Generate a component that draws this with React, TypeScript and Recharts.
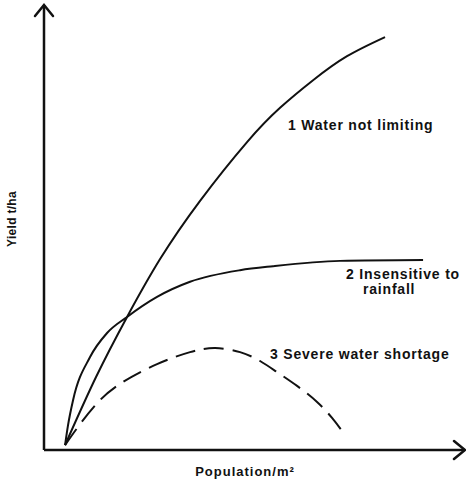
import React from 'react';
import { LineChart, Line, XAxis, YAxis, Customized } from 'recharts';

// Curve 1: water not limiting
const curve1X = [0, 7.36, 14.73, 22.57, 32.07, 43.23, 51.07, 58.91, 66.98, 76.01];
const curve1Y = [0.11, 1.64, 2.99, 4.29, 5.6, 6.92, 7.69, 8.31, 8.85, 9.28];
// Curve 2: insensitive to rainfall
const curve2X = [0, 0.71, 1.9, 5.94, 9.98, 14.73, 21.85, 29.69, 41.57, 49.41, 65.32, 85.04];
const curve2Y = [0.11, 0.56, 1.12, 2.09, 2.63, 2.99, 3.44, 3.78, 4.04, 4.13, 4.25, 4.27];
// Curve 3: severe water shortage
const curve3X = [0, 3.56, 8.31, 13.78, 21.85, 29.69, 35.63, 41.57, 46.32, 50.36, 55.11, 59.86, 63.42, 66.51];
const curve3Y = [0.11, 0.58, 1.12, 1.53, 1.93, 2.2, 2.29, 2.2, 2.0, 1.75, 1.44, 1.08, 0.72, 0.34];

const curveLabels = ['1  Water not limiting', '2  Insensitive to', 'rainfall', '3  Severe water shortage'];
const xAxisTitle = 'Population/m\u00B2';
const yAxisTitle = 'Yield t/ha';

const toPoints = (xs: number[], ys: number[]) => xs.map((x, i) => ({ x, y: ys[i] }));
const data1 = toPoints(curve1X, curve1Y);
const data2 = toPoints(curve2X, curve2Y);
const data3 = toPoints(curve3X, curve3Y);

const FONT = '"Liberation Sans", Arial, Helvetica, sans-serif';
const INK = '#111';

const Annotations = () => {
  const st: React.CSSProperties = { fontFamily: FONT, fontSize: 14, fontWeight: 700, letterSpacing: 0.8 };
  return (
    <g fill={INK}>
      <g style={st}>
        <text x={288} y={130}>{curveLabels[0]}</text>
        <text x={346} y={279}>{curveLabels[1]}</text>
        <text x={363} y={294}>{curveLabels[2]}</text>
        <text x={270} y={359}>{curveLabels[3]}</text>
      </g>
      <text x={245} y={476} textAnchor="middle"
        style={{ fontFamily: FONT, fontSize: 13, fontWeight: 700, letterSpacing: 1 }}>{xAxisTitle}</text>
      <text x={16} y={219} textAnchor="middle" transform="rotate(-90 16 219)"
        style={{ fontFamily: FONT, fontSize: 12, fontWeight: 700, letterSpacing: 0.3 }}>{yAxisTitle}</text>
    </g>
  );
};

export default function App() {
  return (
    <div style={{ position: 'absolute', left: 0, top: 0, width: 466, height: 482, background: '#fff' }}>
      <svg width={0} height={0} style={{ position: 'absolute' }}>
        <defs>
          <marker id="arrowHead" markerUnits="userSpaceOnUse" markerWidth={30} markerHeight={30}
            refX={15} refY={15} orient="auto-start-reverse" viewBox="0 0 30 30" style={{ overflow: 'visible' }}>
            <path d="M 4 6 L 15 15 L 4 24" fill="none" stroke={INK} strokeWidth={2.5} strokeLinecap="round" strokeLinejoin="miter" />
          </marker>
        </defs>
      </svg>
      <LineChart width={466} height={482} margin={{ top: 5, right: 1, left: 0, bottom: 0 }}>
        <XAxis
          type="number"
          dataKey="x"
          domain={[-5, 95]}
          allowDataOverflow
          height={32}
          tick={false}
          tickLine={false}
          axisLine={{ stroke: INK, strokeWidth: 2.5, markerEnd: 'url(#arrowHead)' } as any}
        />
        <YAxis
          type="number"
          dataKey="y"
          domain={[0, 10]}
          allowDataOverflow
          width={44}
          tick={false}
          tickLine={false}
          axisLine={{ stroke: INK, strokeWidth: 2.5, markerStart: 'url(#arrowHead)' } as any}
        />
        <Line data={data1} dataKey="y" type="natural" stroke={INK} strokeWidth={2} dot={false} isAnimationActive={false} />
        <Line data={data2} dataKey="y" type="monotone" stroke={INK} strokeWidth={2} dot={false} isAnimationActive={false} />
        <Line data={data3} dataKey="y" type="natural" stroke={INK} strokeWidth={2} strokeDasharray="20 9" dot={false} isAnimationActive={false} />
        <Customized component={Annotations} />
      </LineChart>
    </div>
  );
}
